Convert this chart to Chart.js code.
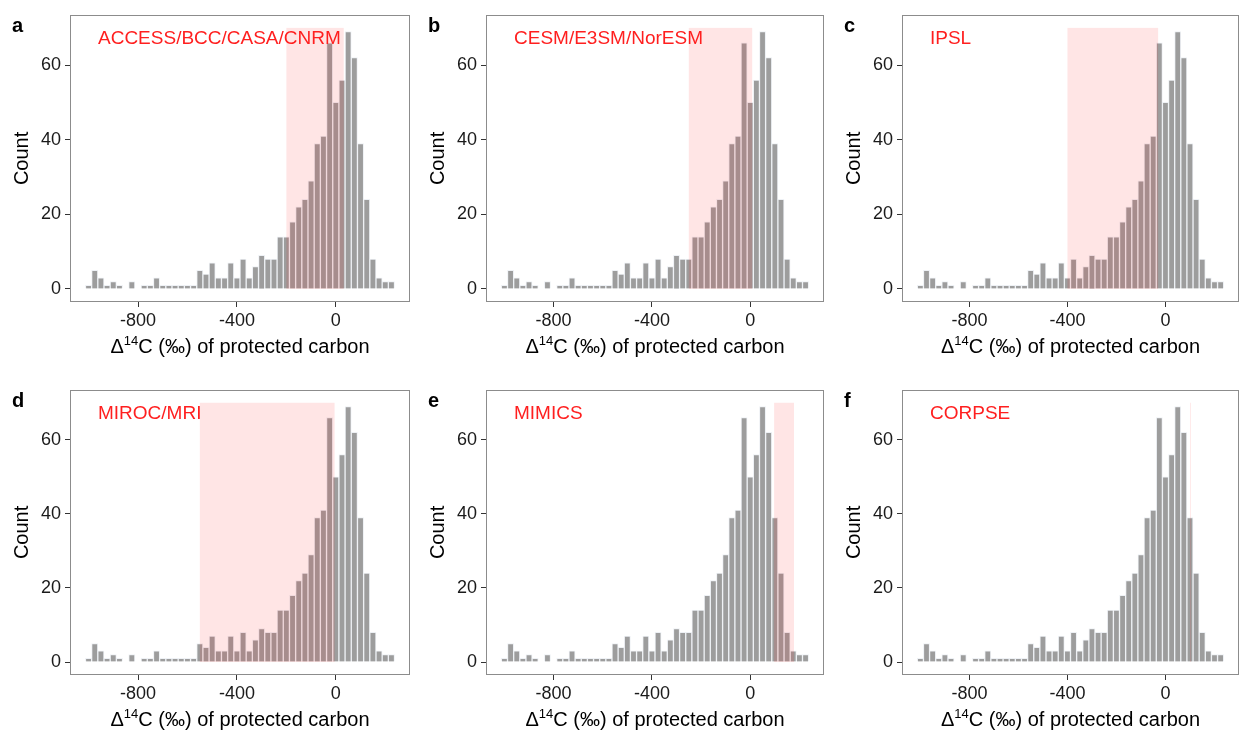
<!DOCTYPE html>
<html>
<head>
<meta charset="utf-8">
<script src="https://cdn.jsdelivr.net/npm/chart.js@4.4.1/dist/chart.umd.min.js"></script>
<style>
  html, body { margin: 0; padding: 0; background: #fff; overflow: hidden; }
  body { width: 1241px; height: 738px; position: relative; }
  .cell { position: absolute; }
</style>
</head>
<body>
<div class="cell" id="c0" style="left:0px;top:0px;width:412px;height:369px"><canvas id="p0"></canvas></div>
<div class="cell" id="c1" style="left:416px;top:0px;width:410px;height:369px"><canvas id="p1"></canvas></div>
<div class="cell" id="c2" style="left:832px;top:0px;width:409px;height:369px"><canvas id="p2"></canvas></div>
<div class="cell" id="c3" style="left:0px;top:375px;width:412px;height:367px"><canvas id="p3"></canvas></div>
<div class="cell" id="c4" style="left:416px;top:375px;width:410px;height:367px"><canvas id="p4"></canvas></div>
<div class="cell" id="c5" style="left:832px;top:375px;width:409px;height:367px"><canvas id="p5"></canvas></div>
<script>
// histogram of protected-carbon radiocarbon, bins of 25 permil centred on multiples of 25
const binCenters = [];
for (let c = -1000; c <= 225; c += 25) binCenters.push(c);

const counts = [1, 5, 3, 1, 2, 1, 0, 2, 0, 1,
                1, 3, 1, 1, 1, 1, 1, 1, 5, 4,
                7, 3, 3, 7, 3, 8, 3, 6, 9, 8,
                8, 14, 14, 18, 22, 24, 29, 39, 41, 66,
                50, 56, 69, 62, 39, 24, 8, 3, 2, 2];

const panelLetters = ['a', 'b', 'c', 'd', 'e', 'f'];
const modelNames = ['ACCESS/BCC/CASA/CNRM', 'CESM/E3SM/NorESM', 'IPSL', 'MIROC/MRI', 'MIMICS', 'CORPSE'];
// model ranges (permil) shaded on each panel
const rangeLow  = [-200, -250, -400, -550, 97, 100];
const rangeHigh = [32, 8, -30, -5, 178, 103.5];
const shadeTop = 70;

const xTicks = [-800, -400, 0];
const yTicks = [0, 20, 40, 60];

const FONT = "'Liberation Sans', Arial, Helvetica, sans-serif";

const panelDeco = {
  id: 'panelDeco',
  afterDatasetsDraw(chart, args, opts) {
    const { ctx, chartArea: a, scales: { x, y } } = chart;
    ctx.save();
    ctx.beginPath();
    ctx.rect(a.left, a.top, a.right - a.left, a.bottom - a.top);
    ctx.clip();
    const x0 = x.getPixelForValue(opts.low);
    const x1 = x.getPixelForValue(opts.high);
    const y0 = y.getPixelForValue(shadeTop);
    const y1 = y.getPixelForValue(0);
    ctx.fillStyle = 'rgba(255,0,0,0.1)';
    ctx.fillRect(x0, y0, x1 - x0, y1 - y0);
    ctx.restore();
  },
  afterDraw(chart, args, opts) {
    const { ctx, chartArea: a } = chart;
    ctx.save();
    // panel frame
    ctx.strokeStyle = '#8c8c8c';
    ctx.lineWidth = 1;
    ctx.strokeRect(Math.round(a.left) + 0.5, Math.round(a.top) + 0.5,
                   Math.round(a.right - a.left) - 1, Math.round(a.bottom - a.top) - 1);

    // model name
    ctx.fillStyle = '#ff1f1f';
    ctx.font = '19px ' + FONT;
    ctx.textBaseline = 'alphabetic';
    ctx.textAlign = 'left';
    ctx.fillText(opts.name, a.left + 28, a.top + 29);

    // panel letter
    ctx.fillStyle = '#000';
    ctx.font = 'bold 20px ' + FONT;
    ctx.fillText(opts.letter, a.left - 58, a.top + 17);

    // y title
    ctx.font = '20px ' + FONT;
    ctx.fillStyle = '#000';
    ctx.save();
    ctx.translate(a.left - 49, (a.top + a.bottom) / 2);
    ctx.rotate(-Math.PI / 2);
    ctx.textAlign = 'center';
    ctx.fillText('Count', 0, 7);
    ctx.restore();

    // x title with superscript
    const parts = [['\u0394', 20, 0], ['14', 13, -8], ['C (\u2030) of protected carbon', 20, 0]];
    let total = 0;
    parts.forEach(p => { ctx.font = p[1] + 'px ' + FONT; total += ctx.measureText(p[0]).width; });
    let cx = (a.left + a.right) / 2 - total / 2;
    const base = a.bottom + 51;
    parts.forEach(p => {
      ctx.font = p[1] + 'px ' + FONT;
      ctx.fillText(p[0], cx, base + p[2]);
      cx += ctx.measureText(p[0]).width;
    });
    ctx.restore();
  }
};

function makePanel(i) {
  const points = binCenters.map((c, k) => ({ x: c, y: counts[k] }));
  new Chart(document.getElementById('p' + i), {
    type: 'bar',
    data: {
      datasets: [{
        data: points,
        backgroundColor: '#9d9d9d',
        borderColor: '#eef1f5',
        borderWidth: 1,
        borderSkipped: 'start',
        barPercentage: 1,
        categoryPercentage: 1
      }]
    },
    plugins: [panelDeco],
    options: {
      responsive: true,
      maintainAspectRatio: false,
      animation: false,
      layout: { padding: { top: 8, right: 2, left: 0, bottom: 0 } },
      plugins: {
        legend: { display: false },
        tooltip: { enabled: false },
        panelDeco: {
          low: rangeLow[i], high: rangeHigh[i],
          name: modelNames[i], letter: panelLetters[i]
        }
      },
      scales: {
        x: {
          type: 'linear',
          offset: false,
          min: -1075,
          max: 300,
          afterBuildTicks: s => { s.ticks = xTicks.map(v => ({ value: v })); },
          afterFit: s => { s.height = 67; },
          grid: { offset: false, drawOnChartArea: false, drawTicks: true, tickLength: 5, tickColor: '#333', tickWidth: 1 },
          border: { display: false },
          ticks: {
            font: { family: FONT, size: 18 },
            color: '#1a1a1a',
            padding: 3,
            maxRotation: 0,
            callback: v => String(v)
          }
        },
        y: {
          min: -3.5,
          max: 73.5,
          afterBuildTicks: s => { s.ticks = yTicks.map(v => ({ value: v })); },
          afterFit: s => { s.width = 70; },
          grid: { drawOnChartArea: false, drawTicks: true, tickLength: 5, tickColor: '#333', tickWidth: 1 },
          border: { display: false },
          ticks: {
            font: { family: FONT, size: 18 },
            color: '#1a1a1a',
            padding: 4,
            callback: v => String(v)
          }
        }
      }
    }
  });
}

for (let i = 0; i < 6; i++) makePanel(i);
</script>
</body>
</html>
